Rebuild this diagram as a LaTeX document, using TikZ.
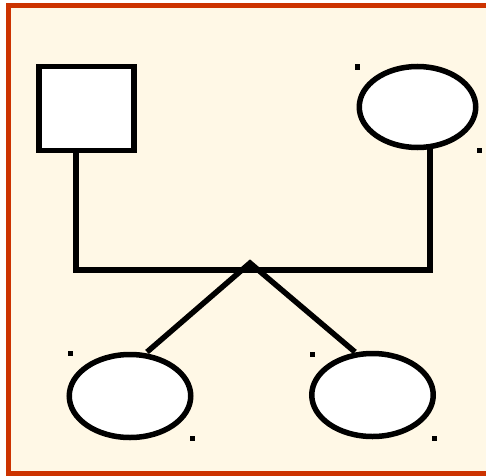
\documentclass[tikz,border=0pt]{standalone}
\usetikzlibrary{shapes.geometric}
\definecolor{framered}{RGB}{204,51,0}
\definecolor{cream}{RGB}{255,248,230}
\tikzset{
  x=1pt, y=1pt,
  person/.style={draw=black, fill=white, line width=5.5pt, inner sep=0pt, outer sep=0pt},
  male/.style={person, rectangle},
  female/.style={person, ellipse},
  link/.style={draw=black, line width=5.5pt, line join=miter},
  dotmark/.style={fill=black, inner sep=0pt, outer sep=0pt, minimum width=5pt, minimum height=5pt, rectangle}
}
\begin{document}
\begin{tikzpicture}
\useasboundingbox (0,0) rectangle (486,475);
\fill[white] (0,0) rectangle (486,475);
\begin{scope}
\clip (0,0) rectangle (486,475);
\draw[framered, fill=cream, line width=5pt] (8.5,469) rectangle (490,2);
\end{scope}
% connectors (drawn under the nodes)
\coordinate (fl) at (76,205);
\coordinate (ml) at (430,205);
\coordinate (peak) at (250,212);
\coordinate (fs) at (76,330);
\coordinate (ms) at (430,330);
\coordinate (c1t) at (147,123);
\coordinate (c2t) at (355,123);
\draw[link] (fs) -- (fl) -- (ml) -- (ms);
\draw[link] (c1t) -- (peak) -- (c2t);
% people
\node[male, minimum width=95pt, minimum height=84pt] (father) at (86.5,366.5) {};
\node[female, minimum width=116.5pt, minimum height=81pt] (mother) at (417.5,368) {};
\node[female, minimum width=121.5pt, minimum height=83pt] (child1) at (130,79) {};
\node[female, minimum width=121.5pt, minimum height=83pt] (child2) at (372.5,80) {};
% small marks
\node[dotmark] (m1) at (357,408) {};
\node[dotmark] (m2) at (479,325) {};
\node[dotmark] (m3) at (70,122) {};
\node[dotmark] (m4) at (192,37) {};
\node[dotmark] (m5) at (312,121) {};
\node[dotmark] (m6) at (434,37) {};
\end{tikzpicture}
\end{document}
